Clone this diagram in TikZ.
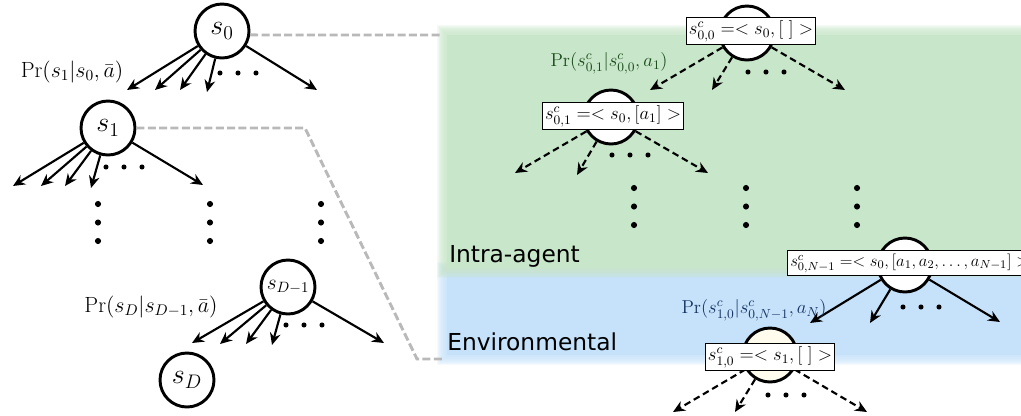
\documentclass[tikz,border=0pt]{standalone}
\usepackage{fix-cm}
\usepackage{fontspec}
\newfontfamily\dejavu{DejaVu Sans}
\usetikzlibrary{arrows.meta}
\definecolor{regG}{RGB}{200,230,201}
\definecolor{regB}{RGB}{198,226,250}
\definecolor{txtG}{RGB}{25,75,25}
\definecolor{txtB}{RGB}{20,50,100}
\definecolor{cream}{RGB}{255,252,238}
\definecolor{linkgray}{RGB}{185,185,185}
\tikzset{
  st/.style={circle, draw, line width=2.2pt, minimum size=40.5pt, inner sep=0pt, fill=white, font=\fontsize{21}{24}\selectfont},
  cbox/.style={draw, line width=0.9pt, fill=white, inner sep=2pt, font=\fontsize{14}{16}\selectfont},
  arr/.style={-{Stealth[length=9pt,width=8pt]}, line width=1.6pt},
  darr/.style={arr, dash pattern=on 5pt off 3pt},
  link/.style={draw=linkgray, line width=2.2pt, dash pattern=on 6pt off 2.5pt},
  lbl/.style={font=\fontsize{16.5}{19}\selectfont, inner sep=0pt},
  rlbl/.style={font=\fontsize{14}{16}\selectfont, inner sep=0pt},
  region/.style={font=\dejavu\fontsize{17.5}{20}\selectfont, inner sep=0pt, anchor=base west},
}
\newcommand{\hdots}[2]{\foreach \dx in {0,18,36} \fill (#1+\dx,#2) circle (1.9pt);}
\newcommand{\vdotsc}[2]{\foreach \dy in {0,18.5,37} \fill (#1,#2+\dy) circle (2.3pt);}
\begin{document}
\begin{tikzpicture}[x=0.75pt,y=-0.75pt]
\useasboundingbox (0,0) rectangle (1021,415);
% background regions
\fill[regB] (447,272) rectangle (1030,355);
\foreach \k in {1,...,10} \fill[regB, fill opacity=0.18] (447-\k,272-\k) rectangle (1030,355+\k);
\fill[regG] (447,35) rectangle (1030,268);
\foreach \k in {1,...,10} \fill[regG, fill opacity=0.18] (447-\k,35-\k) rectangle (1030,268+\k);

% left tree
\node[st] (s0) at (222,31) {$s_0$};
\node[st] (s1) at (108,128) {$s_1$};
\node[st, font=\fontsize{16}{18}\selectfont] (sD1) at (288,287) {$s_{D-1}$};
\node[st] (sD) at (187,380) {$s_D$};
\node[lbl] (p0) at (72,72) {$\Pr(s_1|s_0,\bar{a})$};
\node[lbl] (pD) at (151,307) {$\Pr(s_D|s_{D-1},\bar{a})$};

\coordinate (a01) at (127,90); \coordinate (a02) at (155,90); \coordinate (a03) at (180,90);
\coordinate (a04) at (207,92); \coordinate (a05) at (317,90);
\foreach \t in {a01,a02,a03,a04,a05} \draw[arr] (s0) -- (\t);
\hdots{220}{73}

\coordinate (a11) at (13,186); \coordinate (a12) at (41,186); \coordinate (a13) at (65,186);
\coordinate (a14) at (91,188); \coordinate (a15) at (203,185);
\foreach \t in {a11,a12,a13,a14,a15} \draw[arr] (s1) -- (\t);
\hdots{106}{167}

\vdotsc{98}{204}
\vdotsc{210}{204}
\vdotsc{321}{204}

\coordinate (a21) at (192,343); \coordinate (a22) at (220,344); \coordinate (a23) at (246,344);
\coordinate (a24) at (272,345); \coordinate (a25) at (384,343);
\foreach \t in {a21,a22,a23,a24,a25} \draw[arr] (sD1) -- (\t);
\hdots{286}{325}

% grey links
\coordinate (g0) at (442,35);
\draw[link] (s0.-8) -- (g0);
\coordinate (g1a) at (305,128); \coordinate (g1b) at (417,359); \coordinate (g1c) at (442,359);
\draw[link] (s1.east) -- (g1a) -- (g1b) -- (g1c);

% right tree
\node[st] (c00) at (747,33) {};
\node[st] (c01) at (611,117) {};
\node[st] (c0N) at (905,265) {};
\node[st, fill=cream] (c10) at (770,355) {};

\coordinate (b01) at (650,90); \coordinate (b02) at (712,90); \coordinate (b03) at (845,90);
\foreach \t in {b01,b02,b03} \draw[darr] (c00) -- (\t);
\hdots{748}{72}

\coordinate (b11) at (515,173); \coordinate (b12) at (577,175); \coordinate (b13) at (708,173);
\foreach \t in {b11,b12,b13} \draw[darr] (c01) -- (\t);
\hdots{612}{155}

\vdotsc{634}{188}
\vdotsc{746}{188}
\vdotsc{857}{188}

\coordinate (b21) at (810,323); \coordinate (b22) at (870,323); \coordinate (b23) at (1000,322);
\foreach \t in {b21,b22,b23} \draw[arr] (c0N) -- (\t);
\hdots{903}{307}

\coordinate (b31) at (673,412); \coordinate (b32) at (735,412); \coordinate (b33) at (867,412);
\foreach \t in {b31,b32,b33} \draw[darr] (c10) -- (\t);
\hdots{768}{395}

\node[cbox] (x00) at (751,31) {$s^c_{0,0} =< s_0, [\;] >$};
\node[cbox] (x01) at (613,116) {$s^c_{0,1} =< s_0, [a_1] >$};
\node[cbox, font=\fontsize{12.5}{14}\selectfont, anchor=west] (x0N) at (787,263) {$s^c_{0,N-1} =< s_0, [a_1,a_2,\ldots,a_{N-1}] >$};
\node[cbox] (x10) at (770,357) {$s^c_{1,0} =< s_1, [\;] >$};

\node[rlbl, text=txtG] (pg) at (609,63) {$\Pr(s^c_{0,1}|s^c_{0,0},a_1)$};
\node[rlbl, text=txtB] (pb) at (754,310) {$\Pr(s^c_{1,0}|s^c_{0,N-1},a_N)$};

\node[region] (ia) at (449,262) {Intra-agent};
\node[region] (env) at (447,350) {Environmental};
\end{tikzpicture}
\end{document}
